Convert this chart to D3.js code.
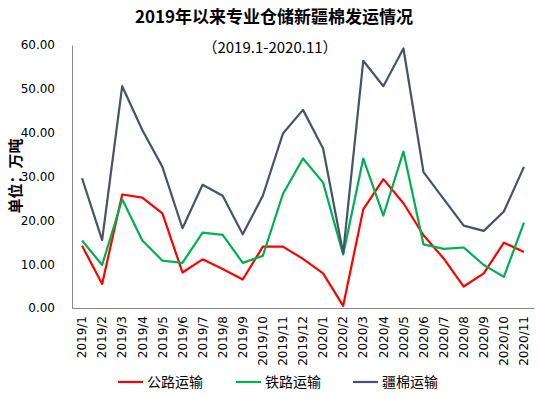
<!DOCTYPE html>
<html>
<head>
<meta charset="utf-8">
<script src="https://cdn.jsdelivr.net/npm/d3@7"></script>
<style>
  body { margin: 0; background: #fff; }
  svg { display: block; }
</style>
</head>
<body>
<svg id="chart" width="540" height="398"></svg>
<script>
var months = ["2019/1","2019/2","2019/3","2019/4","2019/5","2019/6","2019/7","2019/8","2019/9","2019/10","2019/11","2019/12",
  "2020/1","2020/2","2020/3","2020/4","2020/5","2020/6","2020/7","2020/8","2020/9","2020/10","2020/11"];
var road = [14.2,5.5,25.9,25.2,21.6,8.1,11.1,8.9,6.5,14.0,14.0,11.2,7.9,0.5,22.5,29.4,23.9,16.6,11.3,4.9,7.9,14.9,12.8];
var rail = [15.4,9.8,24.8,15.4,10.8,10.3,17.2,16.7,10.3,11.9,26.0,34.1,28.6,12.2,34.1,21.1,35.7,14.5,13.5,13.8,9.8,7.1,19.5];
var total = [29.6,15.5,50.6,40.6,32.2,18.2,28.1,25.6,16.8,25.6,39.8,45.2,36.4,12.5,56.4,50.6,59.2,31.0,24.9,18.8,17.6,22.0,32.2];
var yTicks = [0,10,20,30,40,50,60];
var seriesNames = ["公路运输","铁路运输","疆棉运输"];
var seriesColors = ["#ff0000","#00b050","#44546a"];

var svg = d3.select("#chart");
var margin = { top: 45, right: 6, bottom: 90, left: 72 };
var width = +svg.attr("width") - margin.left - margin.right;
var height = +svg.attr("height") - margin.top - margin.bottom;
var numFont = "'DejaVu Sans', sans-serif";
var cjkFont = "'Noto Sans CJK SC', sans-serif";

var x = d3.scaleBand().domain(months).range([0, width]);
var y = d3.scaleLinear().domain([0, 60]).range([height, 0]);

var g = svg.append("g")
  .attr("transform", "translate(" + margin.left + "," + margin.top + ")");

// titles
svg.append("text")
  .attr("x", 274).attr("y", 23)
  .attr("text-anchor", "middle")
  .style("font-family", cjkFont).style("font-weight", "bold").style("font-size", "17px")
  .text("2019年以来专业仓储新疆棉发运情况");
svg.append("text")
  .attr("x", 270).attr("y", 53)
  .attr("text-anchor", "middle")
  .style("font-family", cjkFont).style("font-size", "15px")
  .text("（2019.1-2020.11）");

// y axis
var yAxis = g.append("g")
  .call(d3.axisLeft(y).tickValues(yTicks).tickSize(0).tickPadding(17).tickFormat(d3.format(".2f")));
yAxis.select(".domain").attr("stroke", "#888");
yAxis.selectAll("text").style("font-family", numFont).style("font-size", "12px").attr("fill", "#000");

// x axis
var xAxis = g.append("g")
  .attr("transform", "translate(0," + height + ")")
  .call(d3.axisBottom(x).tickSize(0).tickSizeOuter(0));
xAxis.select(".domain").attr("stroke", "#888");
xAxis.selectAll("text")
  .style("font-family", numFont).style("font-size", "12px").attr("fill", "#000")
  .attr("text-anchor", "end")
  .attr("transform", "rotate(-90)")
  .attr("x", -8).attr("y", 0).attr("dy", "0.35em");

// y label
svg.append("text")
  .attr("transform", "translate(21,176) rotate(-90)")
  .attr("text-anchor", "middle")
  .style("font-family", cjkFont).style("font-weight", "bold").style("font-size", "15px")
  .text("单位：万吨");

// lines
var line = d3.line()
  .x(function (d, i) { return x(months[i]) + x.bandwidth() / 2; })
  .y(function (d) { return y(d); });

[road, rail, total].forEach(function (s, i) {
  g.append("path")
    .datum(s)
    .attr("fill", "none")
    .attr("stroke", seriesColors[i])
    .attr("stroke-width", 2.2)
    .attr("stroke-linejoin", "round")
    .attr("d", line);
});

// legend
var legendX = [118, 236, 353];
var legend = svg.append("g").attr("transform", "translate(0,382)");
seriesNames.forEach(function (name, i) {
  legend.append("line")
    .attr("x1", legendX[i]).attr("x2", legendX[i] + 25)
    .attr("y1", 0).attr("y2", 0)
    .attr("stroke", seriesColors[i]).attr("stroke-width", 2.2);
  legend.append("text")
    .attr("x", legendX[i] + 29).attr("y", 0).attr("dy", "0.35em")
    .style("font-family", cjkFont).style("font-size", "14px")
    .text(name);
});
</script>
</body>
</html>
